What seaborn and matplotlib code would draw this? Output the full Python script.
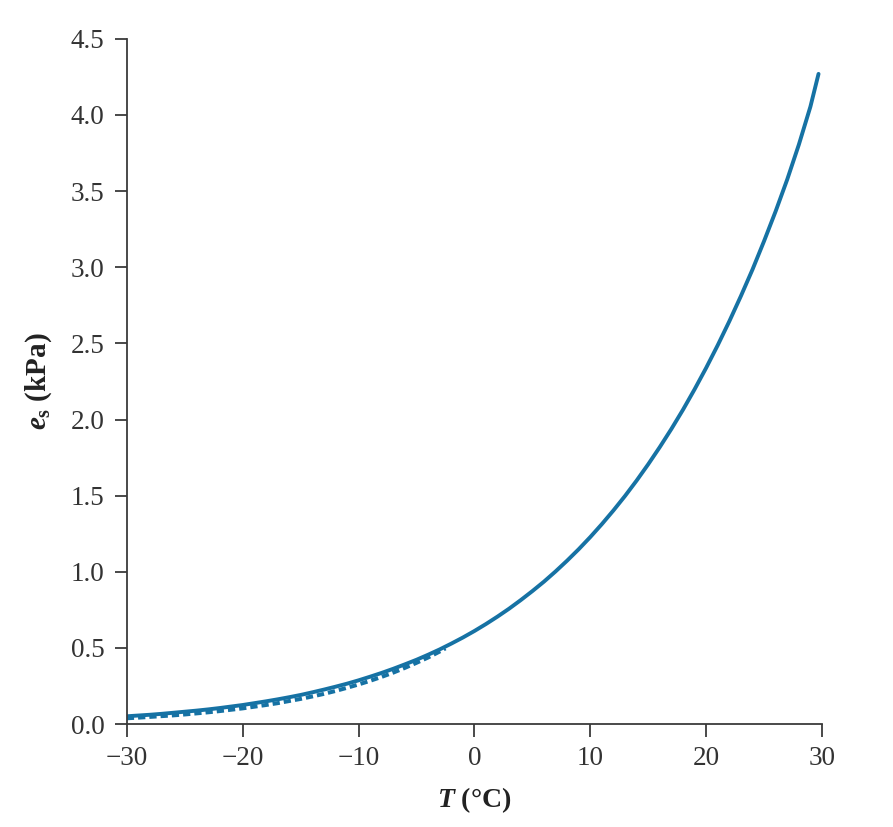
import numpy as np
import pandas as pd
import seaborn as sns
import matplotlib.pyplot as plt

# saturation vapour pressure over water (kPa)
temp_water = [-30, -29, -28, -27, -26, -25, -24, -23, -22, -21,
              -20, -19, -18, -17, -16, -15, -14, -13, -12, -11,
              -10, -9, -8, -7, -6, -5, -4, -3, -2, -1,
              0, 1, 2, 3, 4, 5, 6, 7, 8, 9,
              10, 11, 12, 13, 14, 15, 16, 17, 18, 19,
              20, 21, 22, 23, 24, 25, 26, 27, 28, 29, 29.7]
es_water = [0.051, 0.056, 0.061, 0.067, 0.074, 0.081, 0.088, 0.096, 0.105, 0.115,
            0.125, 0.137, 0.149, 0.162, 0.176, 0.191, 0.208, 0.226, 0.245, 0.265,
            0.287, 0.311, 0.336, 0.363, 0.392, 0.422, 0.455, 0.490, 0.528, 0.568,
            0.611, 0.657, 0.706, 0.758, 0.814, 0.873, 0.935, 1.002, 1.073, 1.148,
            1.228, 1.313, 1.403, 1.498, 1.599, 1.706, 1.819, 1.938, 2.064, 2.198,
            2.339, 2.488, 2.645, 2.811, 2.985, 3.172, 3.368, 3.577, 3.805, 4.055, 4.27]

# over ice, dashed curve (kPa)
temp_ice = [-30, -29, -28, -27, -26, -25, -24, -23, -22, -21,
            -20, -19, -18, -17, -16, -15, -14, -13, -12, -11,
            -10, -9, -8, -7, -6, -5, -4, -3, -2.5]
es_ice = [0.038, 0.042, 0.047, 0.052, 0.057, 0.063, 0.070, 0.077, 0.085, 0.094,
          0.103, 0.114, 0.125, 0.137, 0.151, 0.165, 0.181, 0.198, 0.217, 0.238,
          0.260, 0.284, 0.310, 0.338, 0.369, 0.402, 0.437, 0.476, 0.497]

x_ticks = [-30, -20, -10, 0, 10, 20, 30]
y_ticks = [0.0, 0.5, 1.0, 1.5, 2.0, 2.5, 3.0, 3.5, 4.0, 4.5]

sns.set_style("ticks")
plt.rcParams['font.family'] = ['Liberation Serif', 'DejaVu Serif']
plt.rcParams['mathtext.fontset'] = 'custom'
plt.rcParams['mathtext.it'] = 'Liberation Serif:italic:bold'
plt.rcParams['mathtext.rm'] = 'Liberation Serif:bold'

line_color = '#1672a4'
axis_color = '#3a3a3a'

water = pd.DataFrame({'T': temp_water, 'es': es_water})
ice = pd.DataFrame({'T': temp_ice, 'es': es_ice})

fig = plt.figure(figsize=(8.93, 8.27), dpi=100)
ax = fig.add_axes([0.142, 0.1245, 0.7785, 0.8285])

sns.lineplot(data=ice, x='T', y='es', ax=ax, color=line_color, linewidth=2.9,
             linestyle=(0, (1.8, 1.0)))
sns.lineplot(data=water, x='T', y='es', ax=ax, color=line_color, linewidth=2.8)

ax.set_xlim(-30, 30)
ax.set_ylim(0, 4.5)
ax.set_xticks(x_ticks)
ax.set_xticklabels([str(t).replace('-', '\u2212') for t in x_ticks])
ax.set_yticks(y_ticks)
ax.set_yticklabels([f'{v:.1f}' for v in y_ticks])

ax.tick_params(axis='both', direction='out', length=9, width=1.3, colors=axis_color,
               labelsize=19.5, labelcolor='#333333', pad=7)
for side in ['top', 'right']:
    ax.spines[side].set_visible(False)
for side in ['left', 'bottom']:
    ax.spines[side].set_color(axis_color)
    ax.spines[side].set_linewidth(1.3)

ax.set_xlabel(r'$T$ (°C)', fontsize=20, fontweight='bold', color='#222222', labelpad=10)
ax.set_ylabel(r'$e_\mathrm{s}$ (kPa)', fontsize=21, fontweight='bold', color='#222222', labelpad=12)

fig.savefig('out.png', dpi=100)
